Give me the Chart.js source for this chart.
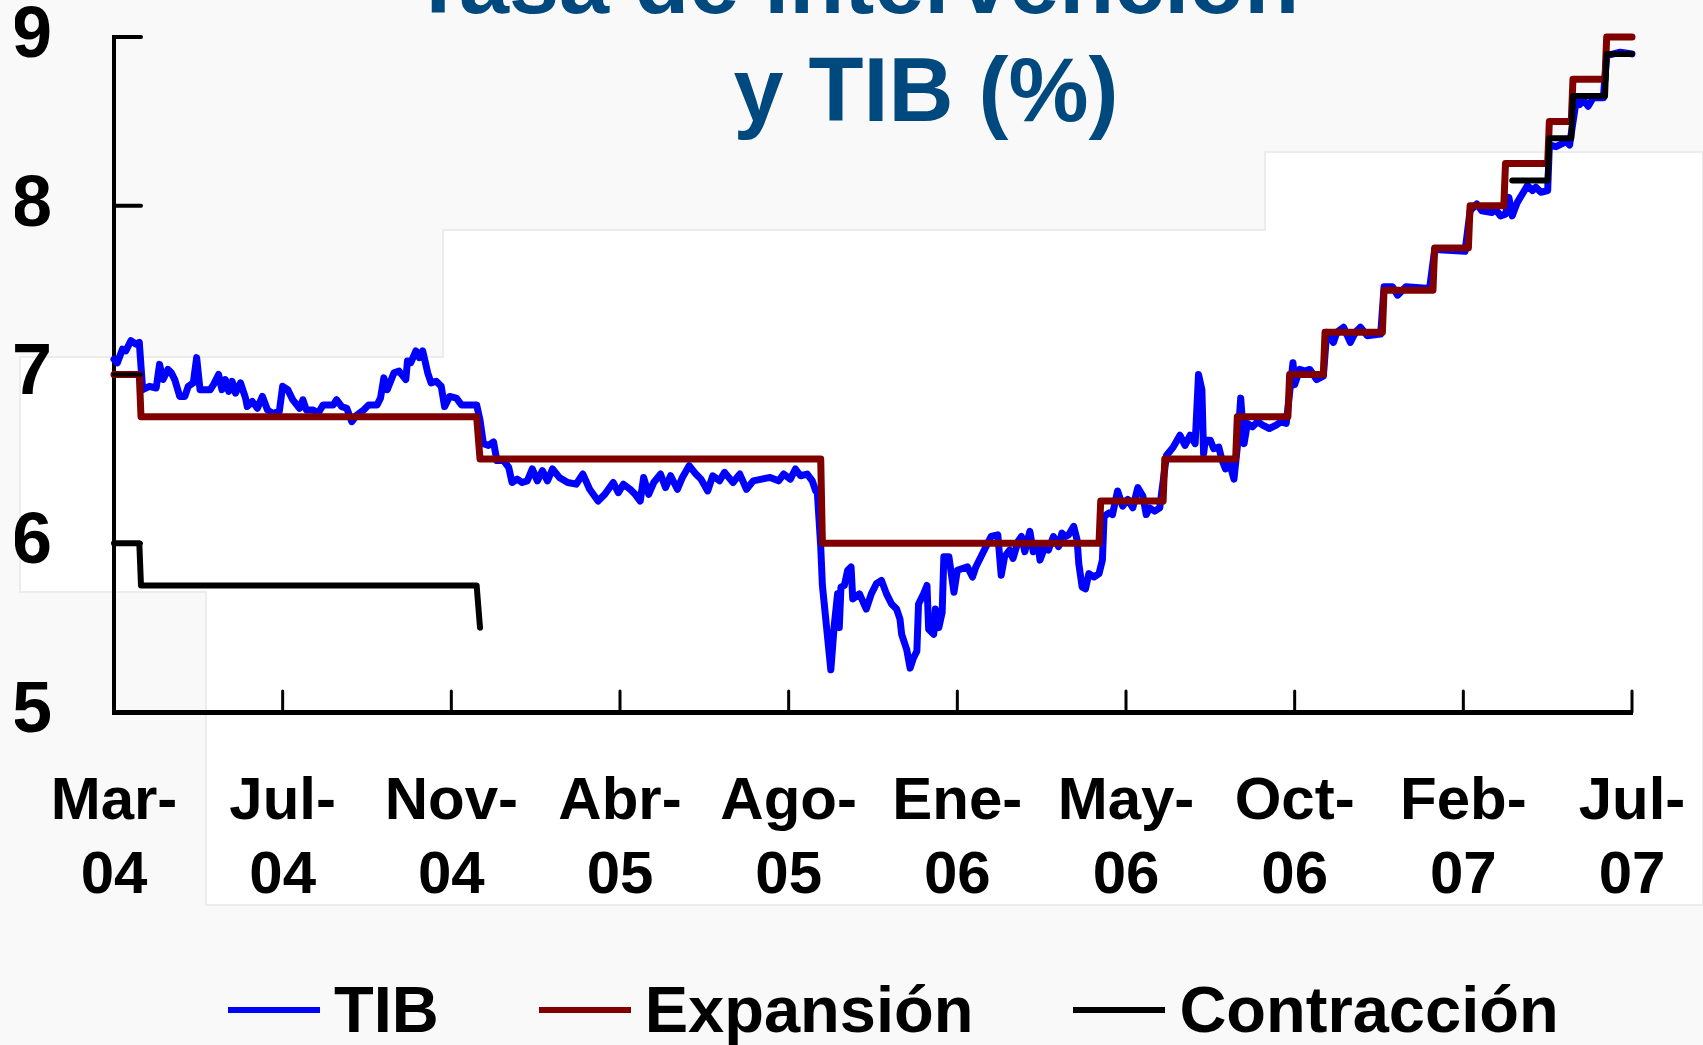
<!DOCTYPE html>
<html lang="es">
<head>
<meta charset="utf-8">
<title>Tasa de intervención y TIB (%)</title>
<script src="https://cdn.jsdelivr.net/npm/chart.js@4.4.1/dist/chart.umd.min.js"></script>
<style>
  html, body { margin: 0; padding: 0; background: #f9f9f9; overflow: hidden; }
  #wrap { position: relative; width: 1703px; height: 1045px; }
  #grafico { position: absolute; left: 0; top: 0; }
  .titulo { position: absolute; width: 1000px; text-align: center; white-space: pre;
            font: bold 90px "Liberation Sans", Arial, sans-serif; line-height: 100px; color: #00497e; }
  #leyenda { position: absolute; left: 228px; top: 978px; display: flex; align-items: center;
             font: bold 65px "Liberation Sans", Arial, sans-serif; line-height: 64px; color: #000; }
  .item { display: flex; align-items: center; margin-right: 100px; white-space: nowrap; }
  .linea { display: inline-block; width: 92px; height: 6px; margin-right: 14px; }
</style>
</head>
<body>
<div id="wrap">
  <canvas id="grafico" width="1703" height="1045"></canvas>
  <div class="titulo" style="left:355px; top:-68px;">Tasa de intervención</div>
  <div class="titulo" style="left:426px; top:40px;">y TIB (%)</div>
  <div id="leyenda"></div>
</div>
<script>
// eje x: días hábiles desde marzo 2004 (una marca cada 100)
const tickDays   = [0, 100, 200, 300, 400, 500, 600, 700, 800, 900];
const tickLabels = [['Mar-', '04'], ['Jul-', '04'], ['Nov-', '04'], ['Abr-', '05'], ['Ago-', '05'],
                    ['Ene-', '06'], ['May-', '06'], ['Oct-', '06'], ['Feb-', '07'], ['Jul-', '07']];

// TIB diaria
const tibDay = [
  0, 2, 5, 7, 10, 13, 15, 17, 21, 25, 27, 29, 32, 34, 36, 39, 42, 44, 47, 49,
  51, 57, 59, 62, 64, 66, 68, 70, 72, 75, 78, 79, 82, 85, 88, 91, 94, 98, 100, 103,
  106, 110, 112, 114, 118, 121, 124, 130, 132, 135, 138, 141, 144, 148, 151, 156, 158, 160, 162, 166,
  169, 173, 174, 176, 179, 181, 183, 186, 188, 191, 194, 196, 199, 203, 206, 215, 217, 219, 222, 225,
  227, 231, 234, 236, 239, 242, 245, 248, 251, 254, 257, 260, 264, 269, 274, 278, 282, 287, 291, 296,
  299, 302, 306, 309, 312, 314, 317, 320, 324, 327, 330, 334, 337, 341, 345, 348, 352, 355, 359, 362,
  367, 371, 375, 379, 384, 389, 394, 397, 401, 404, 407, 411, 414, 416, 417, 419, 420, 425, 427, 429,
  430, 431, 433, 435, 437, 438, 442, 446, 449, 452, 455, 458, 461, 464, 466, 467, 470, 472, 474, 476,
  477, 480, 482, 483, 486, 487, 489, 491, 492, 495, 498, 500, 506, 509, 511, 514, 517, 520, 524, 526,
  528, 531, 533, 536, 538, 540, 543, 545, 548, 549, 552, 554, 557, 560, 562, 564, 566, 569, 571, 572,
  574, 576, 578, 581, 584, 586, 587, 590, 592, 595, 598, 601, 604, 607, 610, 612, 614, 617, 620, 624,
  628, 632, 635, 638, 641, 643, 645, 646, 647, 650, 652, 655, 657, 659, 661, 664, 666, 668, 670, 672,
  675, 678, 681, 685, 689, 692, 695, 699, 700, 703, 706, 709, 713, 717, 719, 723, 725, 729, 733, 736,
  739, 743, 751, 753, 758, 761, 766, 780, 783, 801, 804, 808, 811, 817, 819, 822, 825, 827, 829, 832,
  835, 838, 841, 843, 846, 850, 851, 855, 861, 863, 867, 869, 871, 874, 877, 883, 885, 893, 900
];
const tibRate = [
  7.09, 7.07, 7.15, 7.14, 7.20, 7.18, 7.19, 6.91, 6.93, 6.92, 7.06, 6.97, 7.03, 7.01, 6.97, 6.87, 6.87, 6.93, 6.95, 7.10,
  6.91, 6.91, 6.94, 7.00, 6.91, 6.97, 6.90, 6.96, 6.89, 6.95, 6.86, 6.81, 6.84, 6.80, 6.87, 6.79, 6.77, 6.78, 6.93, 6.91,
  6.85, 6.80, 6.85, 6.79, 6.79, 6.77, 6.82, 6.82, 6.85, 6.81, 6.80, 6.72, 6.76, 6.79, 6.82, 6.82, 6.86, 6.98, 6.91, 7.01,
  7.02, 6.97, 7.08, 7.07, 7.14, 7.10, 7.14, 7.01, 6.95, 6.96, 6.93, 6.81, 6.87, 6.86, 6.82, 6.82, 6.73, 6.59, 6.58, 6.60,
  6.49, 6.49, 6.45, 6.36, 6.38, 6.36, 6.37, 6.44, 6.37, 6.43, 6.37, 6.44, 6.39, 6.36, 6.35, 6.41, 6.32, 6.25, 6.29, 6.36,
  6.30, 6.35, 6.32, 6.29, 6.25, 6.39, 6.29, 6.36, 6.41, 6.33, 6.40, 6.32, 6.39, 6.46, 6.41, 6.38, 6.31, 6.40, 6.37, 6.42,
  6.36, 6.41, 6.32, 6.37, 6.38, 6.39, 6.37, 6.41, 6.38, 6.44, 6.40, 6.41, 6.37, 6.31, 6.30, 5.98, 5.75, 5.25, 5.51, 5.70,
  5.50, 5.74, 5.75, 5.84, 5.86, 5.67, 5.70, 5.61, 5.70, 5.76, 5.78, 5.70, 5.64, 5.61, 5.55, 5.46, 5.37, 5.26, 5.32, 5.36,
  5.64, 5.70, 5.75, 5.49, 5.46, 5.61, 5.50, 5.59, 5.92, 5.92, 5.71, 5.84, 5.86, 5.80, 5.86, 5.92, 5.98, 6.04, 6.05, 5.81,
  5.92, 5.96, 5.91, 6.01, 6.04, 5.95, 6.07, 5.95, 5.98, 5.90, 5.98, 5.96, 6.04, 5.98, 6.06, 6.04, 6.05, 6.10, 6.02, 5.88,
  5.74, 5.73, 5.82, 5.80, 5.82, 5.90, 6.16, 6.18, 6.17, 6.31, 6.22, 6.26, 6.21, 6.33, 6.28, 6.17, 6.21, 6.19, 6.21, 6.52,
  6.57, 6.64, 6.58, 6.64, 6.59, 7.00, 6.91, 6.53, 6.61, 6.61, 6.56, 6.57, 6.49, 6.44, 6.49, 6.38, 6.57, 6.86, 6.59, 6.71,
  6.69, 6.72, 6.70, 6.68, 6.70, 6.72, 6.71, 7.07, 6.94, 7.03, 7.02, 7.03, 6.97, 6.99, 7.25, 7.19, 7.25, 7.28, 7.19, 7.25,
  7.28, 7.23, 7.24, 7.52, 7.52, 7.47, 7.52, 7.51, 7.74, 7.73, 7.97, 8.01, 7.97, 7.96, 7.98, 7.94, 7.95, 8.05, 7.94, 8.02,
  8.07, 8.12, 8.09, 8.11, 8.08, 8.09, 8.36, 8.35, 8.38, 8.36, 8.63, 8.60, 8.63, 8.59, 8.64, 8.64, 8.89, 8.91, 8.90
];

// tasa de expansión (escalones)
const expDay  = [0, 15, 16, 215, 217, 419, 420, 584, 585, 622, 623, 665, 666, 696, 697, 717,
                 718, 752, 753, 782, 783, 803, 804, 824, 825, 850, 851, 864, 865, 884, 885, 900];
const expRate = [7, 7, 6.75, 6.75, 6.5, 6.5, 6, 6, 6.25, 6.25, 6.5, 6.5, 6.75, 6.75, 7, 7,
                 7.25, 7.25, 7.5, 7.5, 7.75, 7.75, 8, 8, 8.25, 8.25, 8.5, 8.5, 8.75, 8.75, 9, 9];

// tasa de contracción (se suspende entre dic-04 y may-07)
const conDay  = [0, 15, 16, 215, 217, 500, 829, 850, 851, 864, 865, 884, 885, 900];
const conRate = [6, 6, 5.75, 5.75, 5.5, null, 8.15, 8.15, 8.4, 8.4, 8.65, 8.65, 8.9, 8.9];

const pts = (xs, ys) => xs.map((x, i) => ({ x, y: ys[i] }));

// fondo de la diapositiva (zona blanca escalonada)
const fondo = {
  id: 'fondo',
  beforeDraw(chart) {
    const ctx = chart.ctx;
    ctx.save();
    ctx.fillStyle = '#ffffff';
    ctx.strokeStyle = '#ececec';
    ctx.lineWidth = 2;
    ctx.beginPath();
    ctx.moveTo(20, 357); ctx.lineTo(443, 357); ctx.lineTo(443, 230); ctx.lineTo(1265, 230);
    ctx.lineTo(1265, 152); ctx.lineTo(1703, 152); ctx.lineTo(1703, 905); ctx.lineTo(206, 905);
    ctx.lineTo(206, 592); ctx.lineTo(20, 592); ctx.closePath();
    ctx.fill(); ctx.stroke();
    ctx.restore();
  }
};

// marcas de los ejes hacia adentro
const marcas = {
  id: 'marcas',
  afterDraw(chart) {
    const { ctx, chartArea, scales: { x, y } } = chart;
    ctx.save();
    ctx.strokeStyle = '#000';
    ctx.lineCap = 'round';
    ctx.lineWidth = 3;
    x.ticks.forEach(t => {
      const px = x.getPixelForValue(t.value);
      ctx.beginPath(); ctx.moveTo(px, chartArea.bottom); ctx.lineTo(px, chartArea.bottom - 21); ctx.stroke();
    });
    ctx.lineWidth = 4;
    y.ticks.forEach(t => {
      const py = y.getPixelForValue(t.value);
      ctx.beginPath(); ctx.moveTo(chartArea.left, py); ctx.lineTo(chartArea.left + 27, py); ctx.stroke();
    });
    ctx.restore();
  }
};

const ctx = document.getElementById('grafico').getContext('2d');
const chart = new Chart(ctx, {
  type: 'line',
  data: {
    datasets: [{
      label: 'TIB',
      data: pts(tibDay, tibRate),
      borderColor: '#0000ff',
      borderWidth: 7,
      order: 3
    }, {
      label: 'Expansión',
      data: pts(expDay, expRate),
      borderColor: '#800000',
      borderWidth: 7,
      order: 2
    }, {
      label: 'Contracción',
      data: pts(conDay, conRate),
      borderColor: '#000000',
      borderWidth: 6,
      order: 1
    }]
  },
  options: {
    responsive: false,
    animation: false,
    devicePixelRatio: 1,
    clip: false,
    elements: {
      point: { radius: 0 },
      line: { tension: 0, borderJoinStyle: 'round', borderCapStyle: 'round', fill: false }
    },
    // área del gráfico: x 114..1632, y 37..712
    layout: { autoPadding: false, padding: { left: 15, right: 71, top: 37, bottom: 137 } },
    plugins: { legend: { display: false }, tooltip: { enabled: false } },
    scales: {
      x: {
        type: 'linear',
        min: 0, max: 900,
        afterBuildTicks: s => { s.ticks = tickDays.map(v => ({ value: v })); },
        afterFit: s => { s.height = 196; s.paddingLeft = 0; s.paddingRight = 0; },
        grid: { display: false },
        border: { display: true, color: '#000', width: 5 },
        ticks: {
          autoSkip: false, maxRotation: 0, padding: 46, color: '#000',
          font: { family: '"Liberation Sans", Arial, sans-serif', size: 60, weight: 'bold', lineHeight: 1.23 },
          callback: (v, i) => tickLabels[i]
        }
      },
      y: {
        min: 5, max: 9,
        afterFit: s => { s.width = 99; s.paddingTop = 0; s.paddingBottom = 0; },
        grid: { display: false },
        border: { display: true, color: '#000', width: 4 },
        ticks: {
          stepSize: 1, padding: 54, color: '#000',
          font: { family: '"Liberation Sans", Arial, sans-serif', size: 72, weight: 'bold', lineHeight: 1 }
        }
      }
    }
  },
  plugins: [fondo, marcas]
});

// leyenda en HTML, en el orden del original
const leyenda = document.getElementById('leyenda');
chart.data.datasets.forEach(ds => {
  const item = document.createElement('span');
  item.className = 'item';
  const linea = document.createElement('span');
  linea.className = 'linea';
  linea.style.background = ds.borderColor;
  item.appendChild(linea);
  item.appendChild(document.createTextNode(ds.label));
  leyenda.appendChild(item);
});
</script>
</body>
</html>
